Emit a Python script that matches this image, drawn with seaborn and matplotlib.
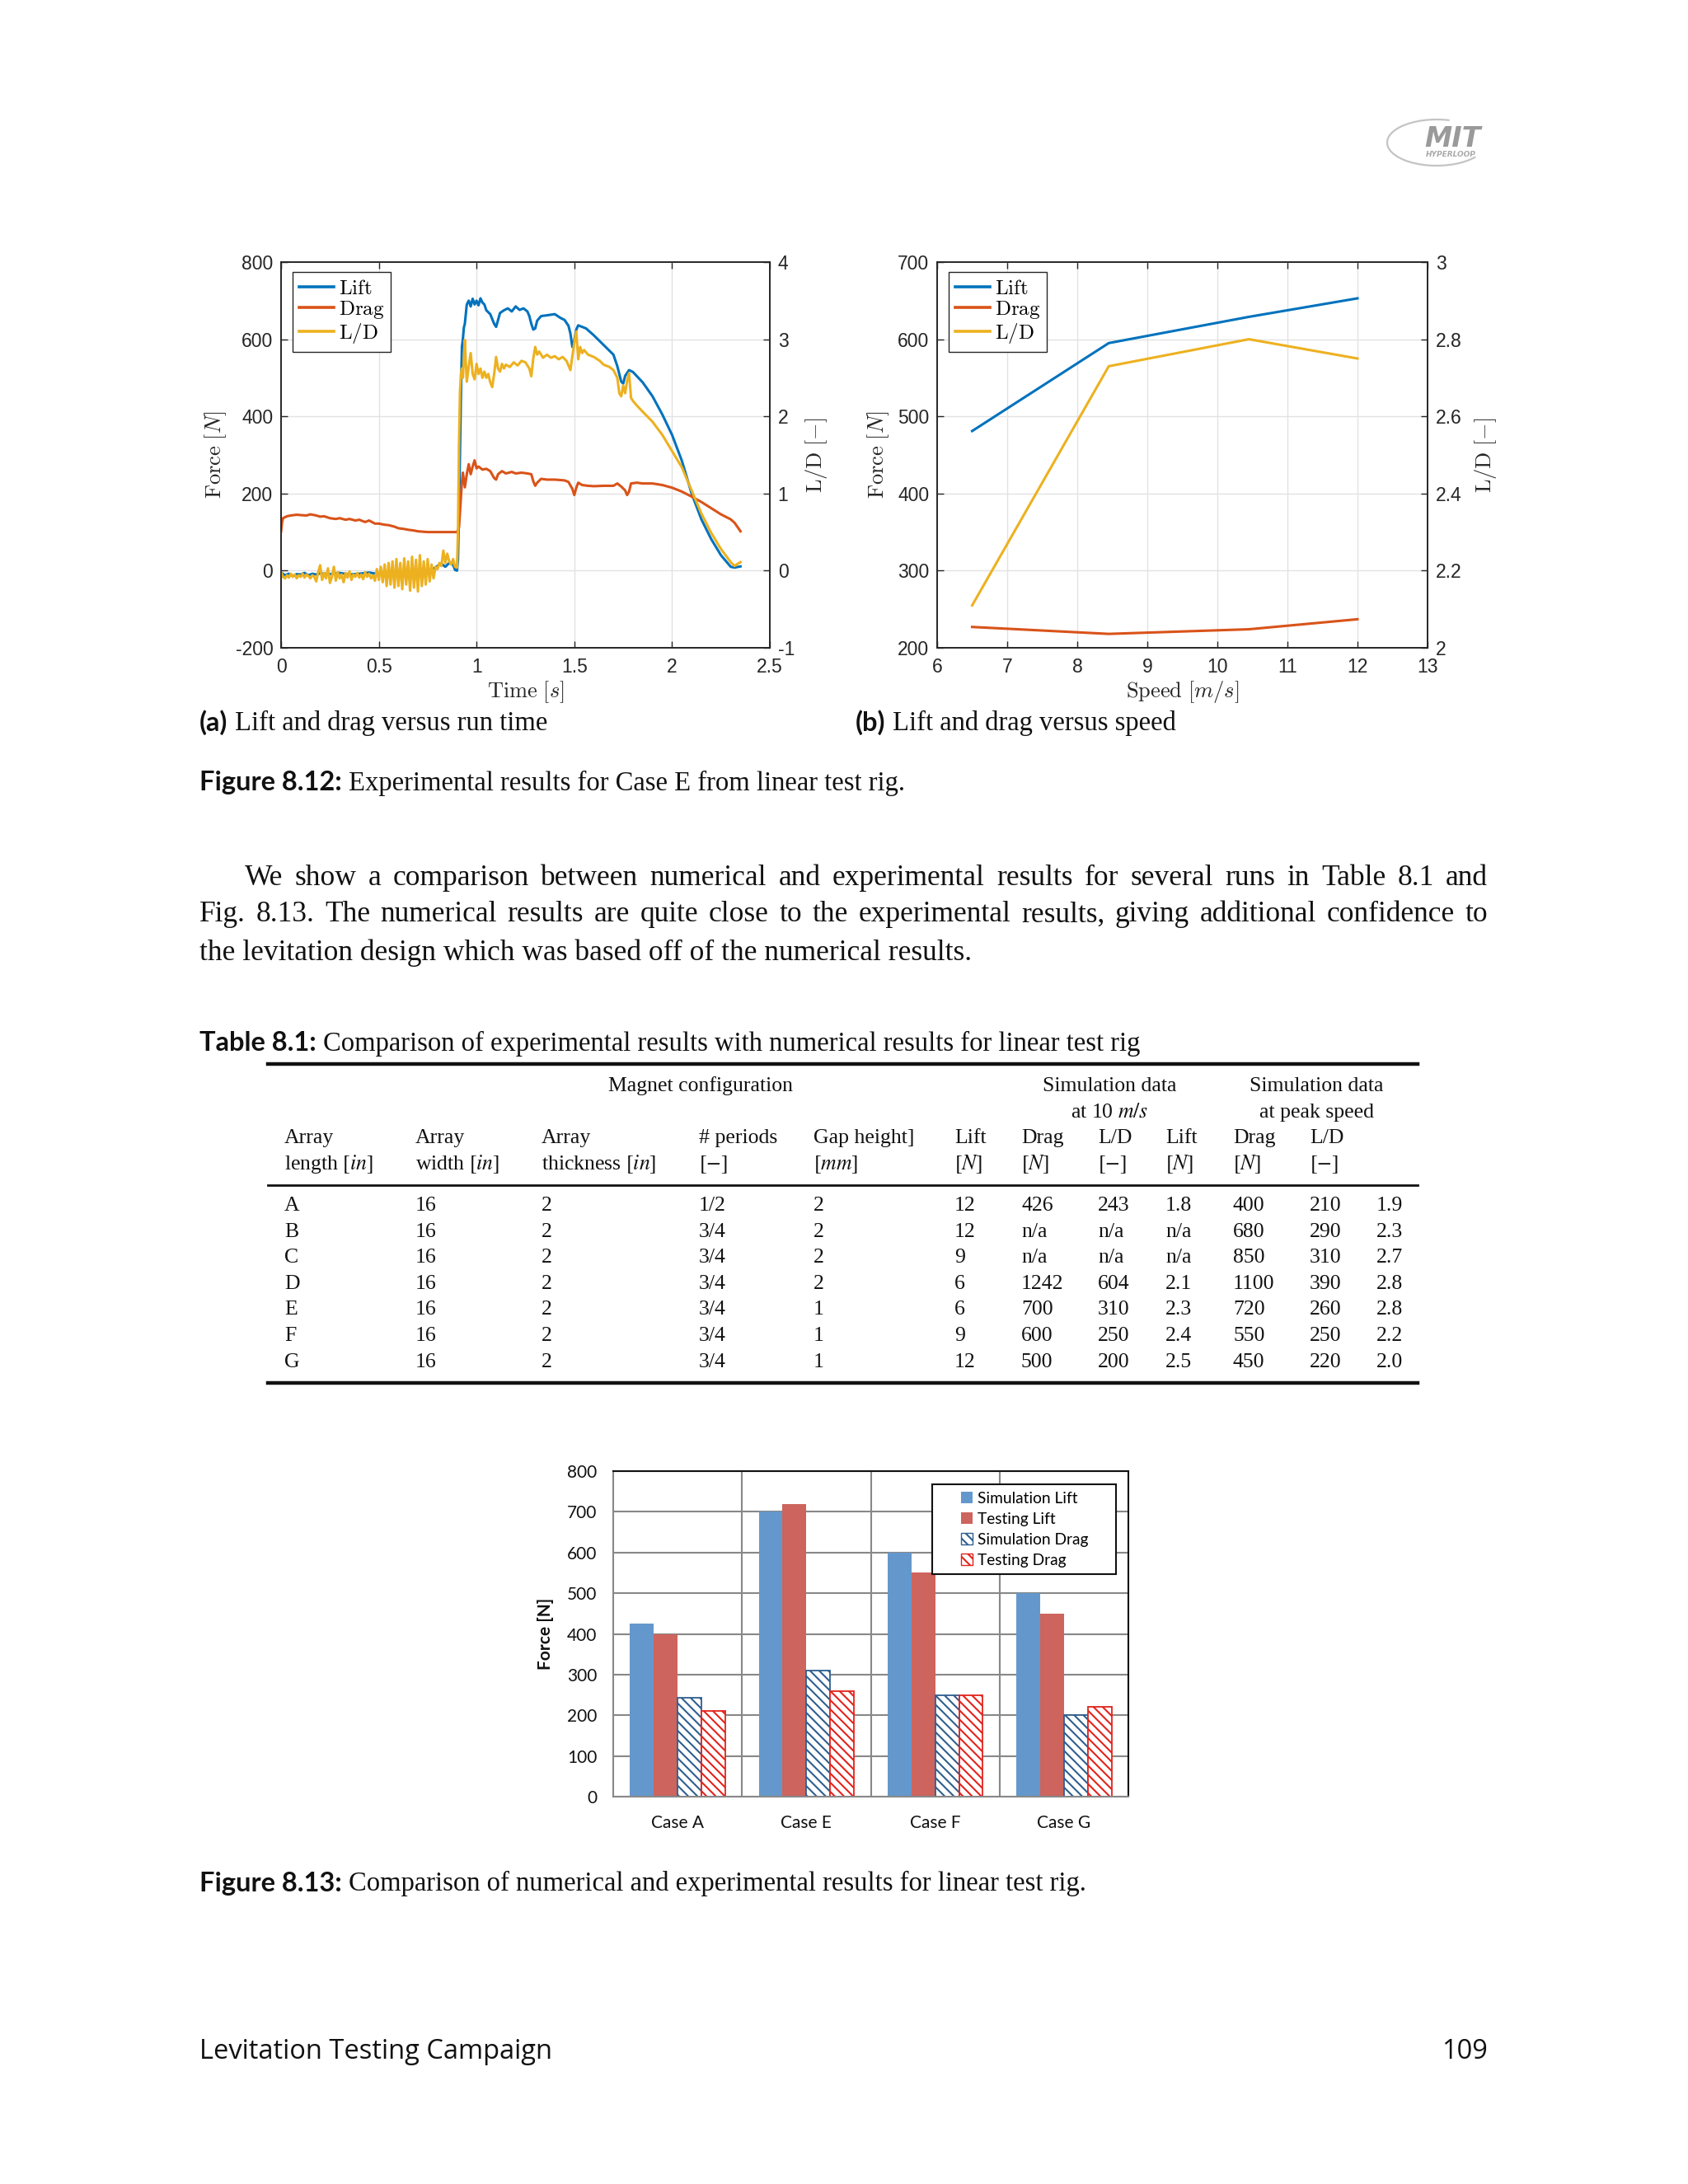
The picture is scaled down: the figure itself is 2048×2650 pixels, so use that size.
import numpy as np
import pandas as pd
import matplotlib
matplotlib.use("Agg")
import matplotlib.pyplot as plt
import seaborn as sns
from matplotlib.lines import Line2D
from matplotlib.patches import Patch, Arc, Rectangle
from matplotlib.legend_handler import HandlerPatch

# ------------------------------------------------------------------ data
# (a) lift / drag / L-D versus run time
t_lift = [0.00, 0.02, 0.04, 0.06, 0.08, 0.10, 0.12, 0.14, 0.16, 0.18, 0.20, 0.25, 0.30, 0.35,
          0.40, 0.45, 0.50, 0.55, 0.60, 0.65, 0.70, 0.75, 0.78, 0.80, 0.82, 0.84, 0.86, 0.88,
          0.89, 0.90, 0.905, 0.91, 0.915, 0.92, 0.925, 0.93, 0.935, 0.94, 0.95, 0.96, 0.97,
          0.98, 0.99, 1.00, 1.01, 1.02, 1.03, 1.04, 1.05, 1.07, 1.09, 1.10, 1.11, 1.12, 1.14,
          1.16, 1.18, 1.20, 1.22, 1.24, 1.26, 1.27, 1.28, 1.29, 1.30, 1.31, 1.33, 1.36, 1.40,
          1.43, 1.45, 1.47, 1.48, 1.49, 1.50, 1.51, 1.52, 1.54, 1.56, 1.60, 1.65, 1.70, 1.72,
          1.74, 1.75, 1.76, 1.78, 1.80, 1.85, 1.90, 1.95, 2.00, 2.05, 2.10, 2.15, 2.20, 2.25,
          2.30, 2.32, 2.35]
lift_a = [-5, -12, -8, -14, -9, -10, -6, -12, -8, -10, -7, -9, -6, -10,
          -8, -5, -9, -6, -8, -4, -6, -2, 5, 12, 18, 10, 20, 15,
          2, 0, 30, 150, 300, 450, 580, 600, 630, 640, 690, 700, 685,
          705, 690, 700, 688, 706, 695, 690, 675, 665, 640, 632, 650, 668, 675,
          680, 672, 685, 676, 680, 672, 660, 640, 625, 628, 648, 660, 662, 665,
          655, 650, 635, 615, 580, 598, 625, 636, 632, 628, 610, 585, 560, 530,
          490, 485, 505, 520, 515, 488, 452, 405, 352, 285, 200, 133, 82, 40,
          10, 8, 11]

t_drag = [0.00, 0.005, 0.01, 0.03, 0.05, 0.08, 0.10, 0.13, 0.15, 0.18, 0.20, 0.22, 0.25, 0.28,
          0.30, 0.33, 0.35, 0.38, 0.40, 0.43, 0.45, 0.48, 0.50, 0.53, 0.55, 0.58, 0.60, 0.63,
          0.65, 0.68, 0.70, 0.75, 0.80, 0.85, 0.90, 0.91, 0.915, 0.92, 0.925, 0.93, 0.94, 0.95,
          0.96, 0.97, 0.98, 0.99, 1.00, 1.01, 1.03, 1.05, 1.07, 1.09, 1.10, 1.11, 1.13, 1.15,
          1.18, 1.20, 1.23, 1.26, 1.28, 1.29, 1.30, 1.31, 1.33, 1.36, 1.40, 1.45, 1.47, 1.49,
          1.50, 1.51, 1.52, 1.54, 1.57, 1.60, 1.65, 1.70, 1.72, 1.74, 1.76, 1.77, 1.78, 1.79,
          1.82, 1.85, 1.90, 1.95, 2.00, 2.05, 2.10, 2.15, 2.20, 2.25, 2.30, 2.32, 2.35]
drag_a = [102, 125, 136, 141, 143, 145, 144, 143, 146, 143, 140, 141, 136, 134,
          136, 132, 134, 130, 132, 126, 130, 122, 122, 119, 118, 114, 110, 108,
          106, 104, 102, 100, 100, 100, 100, 112, 150, 190, 230, 254, 216, 250,
          276, 250, 270, 286, 265, 270, 262, 264, 258, 240, 236, 250, 258, 252,
          256, 252, 254, 252, 250, 232, 220, 228, 238, 236, 236, 234, 230, 212,
          196, 215, 228, 222, 220, 219, 220, 220, 226, 218, 208, 196, 205, 226,
          228, 226, 226, 222, 215, 205, 192, 178, 162, 146, 133, 124, 102]

t_ld = [0.00, 0.01, 0.02, 0.03, 0.04, 0.05, 0.06, 0.07, 0.08, 0.09, 0.10, 0.11, 0.12, 0.13,
        0.14, 0.15, 0.16, 0.17, 0.18, 0.19, 0.20, 0.21, 0.22, 0.23, 0.24, 0.25, 0.26, 0.27,
        0.28, 0.29, 0.30, 0.31, 0.32, 0.33, 0.34, 0.35, 0.36, 0.37, 0.38, 0.39, 0.40, 0.41,
        0.42, 0.43, 0.44, 0.45, 0.46, 0.47, 0.48, 0.49, 0.50, 0.51, 0.52, 0.53, 0.54, 0.55,
        0.56, 0.57, 0.58, 0.59, 0.60, 0.61, 0.62, 0.63, 0.64, 0.65, 0.66, 0.67, 0.68, 0.69,
        0.70, 0.71, 0.72, 0.73, 0.74, 0.75, 0.76, 0.77, 0.78, 0.79, 0.80, 0.81, 0.82, 0.83,
        0.84, 0.85, 0.86, 0.87, 0.88, 0.89, 0.90, 0.905, 0.91, 0.915, 0.92, 0.925, 0.93,
        0.935, 0.94, 0.945, 0.95, 0.96, 0.97, 0.98, 0.99, 1.00, 1.01, 1.02, 1.03, 1.04, 1.05,
        1.06, 1.07, 1.08, 1.09, 1.10, 1.11, 1.12, 1.13, 1.14, 1.15, 1.17, 1.19, 1.21, 1.23,
        1.25, 1.27, 1.28, 1.29, 1.30, 1.31, 1.32, 1.34, 1.36, 1.38, 1.40, 1.42, 1.44, 1.46,
        1.47, 1.48, 1.49, 1.50, 1.51, 1.52, 1.53, 1.54, 1.55, 1.57, 1.60, 1.63, 1.65, 1.68,
        1.70, 1.72, 1.73, 1.74, 1.75, 1.76, 1.77, 1.78, 1.79, 1.80, 1.82, 1.85, 1.90, 1.95,
        2.00, 2.05, 2.10, 2.15, 2.20, 2.25, 2.30, 2.32, 2.33, 2.35]
ld_a = [-0.02, -0.08, -0.10, -0.06, -0.09, -0.04, -0.08, -0.05, -0.10, -0.06, -0.08, -0.04,
        -0.09, -0.05, -0.07, -0.10, -0.06, -0.08, -0.14, -0.02, 0.07, -0.12, -0.03, -0.10,
        0.03, -0.16, -0.08, 0.05, -0.13, -0.02, -0.10, -0.05, -0.15, -0.03, -0.09, -0.01,
        -0.12, -0.05, -0.08, -0.03, -0.09, -0.05, -0.11, -0.02, -0.08, -0.04, -0.10, -0.06,
        -0.13, 0.02, -0.12, 0.05, -0.15, 0.08, -0.20, 0.10, -0.18, 0.12, -0.22, 0.15, -0.20,
        0.10, -0.24, 0.16, -0.18, 0.12, -0.26, 0.18, -0.22, 0.14, -0.27, 0.20, -0.20, 0.12,
        -0.18, 0.15, -0.14, 0.08, -0.10, 0.05, 0.02, 0.10, 0.06, 0.26, 0.10, 0.22, 0.12, 0.08,
        0.15, 0.05, 0.04, 0.50, 1.60, 2.30, 2.55, 2.62, 2.50, 2.75, 2.99, 2.70, 2.45, 2.65,
        2.82, 2.55, 2.48, 2.68, 2.55, 2.62, 2.50, 2.58, 2.50, 2.55, 2.44, 2.38, 2.55, 2.77,
        2.62, 2.58, 2.68, 2.62, 2.67, 2.64, 2.70, 2.66, 2.72, 2.70, 2.62, 2.52, 2.75, 2.90,
        2.80, 2.84, 2.76, 2.80, 2.76, 2.78, 2.74, 2.77, 2.72, 2.66, 2.60, 2.78, 2.96, 3.10,
        2.74, 2.90, 2.82, 2.86, 2.80, 2.77, 2.72, 2.67, 2.64, 2.60, 2.50, 2.30, 2.26, 2.40,
        2.30, 2.46, 2.56, 2.24, 2.20, 2.14, 2.06, 1.93, 1.76, 1.55, 1.34, 1.04, 0.74, 0.49,
        0.28, 0.11, 0.06, 0.08, 0.11]

# (b) lift / drag / L-D versus speed
speed_b = [6.5, 8.45, 10.45, 12.0]
lift_b = [481, 595, 629, 653]
drag_b = [227, 218, 224, 237]
ld_b = [2.11, 2.73, 2.80, 2.75]

# Fig 8.13 bar chart
cases = ["Case A", "Case E", "Case F", "Case G"]
series_names = ["Simulation Lift", "Testing Lift", "Simulation Drag", "Testing Drag"]
sim_lift = [426, 700, 600, 500]
test_lift = [400, 720, 550, 450]
sim_drag = [243, 310, 250, 200]
test_drag = [210, 260, 250, 220]

# Table 8.1
tbl_head_top = ["Array", "Array", "Array", "# periods", "Gap height]", "Lift", "Drag", "L/D",
                "Lift", "Drag", "L/D"]
tbl_head_bot = [r"length $[in]$", r"width $[in]$", r"thickness $[in]$", r"$[-]$", r"$[mm]$",
                r"$[N]$", r"$[N]$", r"$[-]$", r"$[N]$", r"$[N]$", r"$[-]$"]
tbl_rows = [
    ["A", "16", "2", "1/2", "2", "12", "426", "243", "1.8", "400", "210", "1.9"],
    ["B", "16", "2", "3/4", "2", "12", "n/a", "n/a", "n/a", "680", "290", "2.3"],
    ["C", "16", "2", "3/4", "2", "9", "n/a", "n/a", "n/a", "850", "310", "2.7"],
    ["D", "16", "2", "3/4", "2", "6", "1242", "604", "2.1", "1100", "390", "2.8"],
    ["E", "16", "2", "3/4", "1", "6", "700", "310", "2.3", "720", "260", "2.8"],
    ["F", "16", "2", "3/4", "1", "9", "600", "250", "2.4", "550", "250", "2.2"],
    ["G", "16", "2", "3/4", "1", "12", "500", "200", "2.5", "450", "220", "2.0"],
]

# ------------------------------------------------------------------ style
plt.rcParams["font.family"] = ["Liberation Sans", "DejaVu Sans"]
plt.rcParams["mathtext.fontset"] = "cm"
plt.rcParams["axes.unicode_minus"] = False
plt.rcParams["hatch.linewidth"] = 1.5

W, H = 2048, 2650
fig = plt.figure(figsize=(W / 100, H / 100), dpi=100)
fig.patch.set_facecolor("white")
R = fig.canvas.get_renderer()

SERIF = ["Liberation Serif", "DejaVu Serif"]
BOLDSANS = ["Lato", "DejaVu Sans"]
SANS = ["Open Sans", "DejaVu Sans"]
BLUE, ORANGE, YELLOW = "#0072BD", "#D95319", "#EDB120"
AXC = "#262626"
INK = "#111111"


def rect(l, t, r, b):
    return [l / W, 1 - b / H, (r - l) / W, (b - t) / H]


def ftext(x, y, s, **kw):
    kw.setdefault("va", "center")
    return fig.text(x / W, 1 - y / H, s, **kw)


def width_px(t):
    return t.get_window_extent(R).width


def justify(y, x0, x1, s, size, family):
    words = s.split()
    ts = [ftext(x0, y, w, fontsize=size, family=family, color=INK) for w in words]
    ws = [width_px(t) for t in ts]
    gap = (x1 - x0 - sum(ws)) / (len(words) - 1)
    x = x0
    for t, w in zip(ts, ws):
        t.set_x(x / W)
        x += w + gap


def caption(y, x0, bold, rest, size):
    t = ftext(x0, y, bold, fontsize=size, family=BOLDSANS, weight="bold", color=INK)
    w = width_px(t)
    ftext(x0 + w + size * 100 / 72 * 0.25, y, rest, fontsize=size, family=SERIF, color=INK)


def matlab_style(ax, ax2):
    for a in (ax, ax2):
        for s in a.spines.values():
            s.set_color(AXC)
            s.set_linewidth(1.2)
        a.tick_params(direction="in", length=6, width=1.0, colors=AXC, labelsize=16.5)
    ax.tick_params(top=True, axis="x", pad=9)
    ax.tick_params(axis="y", pad=7)
    ax2.tick_params(axis="y", pad=7)
    ax.grid(True, color="#e2e2e2", linewidth=1.0)
    ax.set_axisbelow(True)


def matlab_legend(ax2, fig_w, fig_h):
    handles = [Line2D([], [], color=BLUE, lw=2.6),
               Line2D([], [], color=ORANGE, lw=2.6),
               Line2D([], [], color=YELLOW, lw=2.6)]
    labels = [r"$\mathrm{Lift}$", r"$\mathrm{Drag}$", r"$\mathrm{L/D}$"]
    leg = ax2.legend(handles, labels, loc="upper left",
                     bbox_to_anchor=(14 / fig_w, 1 - 12 / fig_h), borderaxespad=0,
                     fontsize=18, handlelength=1.7, handletextpad=0.25, labelspacing=0.05,
                     borderpad=0.3, fancybox=False, framealpha=1, edgecolor=AXC)
    leg.get_frame().set_linewidth(1.0)


class SquareRight(HandlerPatch):
    """Small square legend key placed at the right end of the handle box."""

    def create_artists(self, legend, orig_handle, xdescent, ydescent, width, height,
                       fontsize, trans):
        side = 0.72 * fontsize
        p = Rectangle((width - side - xdescent, -ydescent + (height - side) / 2), side, side)
        self.update_prop(p, orig_handle, legend)
        p.set_transform(trans)
        return [p]


# ------------------------------------------------------------------ (a)
axA = fig.add_axes(rect(341, 318, 934, 786))
sns.lineplot(x=t_lift, y=lift_a, ax=axA, color=BLUE, linewidth=2.2, estimator=None, sort=False)
sns.lineplot(x=t_drag, y=drag_a, ax=axA, color=ORANGE, linewidth=2.2, estimator=None, sort=False)
axA2 = axA.twinx()
sns.lineplot(x=t_ld, y=ld_a, ax=axA2, color=YELLOW, linewidth=2.2, estimator=None, sort=False)
axA.set_xlim(0, 2.5)
axA.set_ylim(-200, 800)
axA2.set_ylim(-1, 4)
axA.set_xticks([0, 0.5, 1, 1.5, 2, 2.5])
axA.set_xticklabels(["0", "0.5", "1", "1.5", "2", "2.5"])
axA.set_yticks([-200, 0, 200, 400, 600, 800])
axA2.set_yticks([-1, 0, 1, 2, 3, 4])
matlab_style(axA, axA2)
axA.set_xlabel(r"$\mathrm{Time}\ [s]$", fontsize=19, color=AXC, labelpad=2)
axA.set_ylabel(r"$\mathrm{Force}\ [N]$", fontsize=19, color=AXC, labelpad=6)
axA2.set_ylabel(r"$\mathrm{L/D}\ [-]$", fontsize=19, color=AXC, labelpad=8)
matlab_legend(axA2, 593, 468)

# ------------------------------------------------------------------ (b)
axB = fig.add_axes(rect(1137, 318, 1732, 786))
sns.lineplot(x=speed_b, y=lift_b, ax=axB, color=BLUE, linewidth=2.2, estimator=None, sort=False)
sns.lineplot(x=speed_b, y=drag_b, ax=axB, color=ORANGE, linewidth=2.2, estimator=None, sort=False)
axB2 = axB.twinx()
sns.lineplot(x=speed_b, y=ld_b, ax=axB2, color=YELLOW, linewidth=2.2, estimator=None, sort=False)
axB.set_xlim(6, 13)
axB.set_ylim(200, 700)
axB2.set_ylim(2, 3)
axB.set_xticks(range(6, 14))
axB.set_yticks(range(200, 701, 100))
axB2.set_yticks([2, 2.2, 2.4, 2.6, 2.8, 3])
axB2.set_yticklabels(["2", "2.2", "2.4", "2.6", "2.8", "3"])
matlab_style(axB, axB2)
axB.set_xlabel(r"$\mathrm{Speed}\ [m/s]$", fontsize=19, color=AXC, labelpad=2)
axB.set_ylabel(r"$\mathrm{Force}\ [N]$", fontsize=19, color=AXC, labelpad=6)
axB2.set_ylabel(r"$\mathrm{L/D}\ [-]$", fontsize=19, color=AXC, labelpad=10)
matlab_legend(axB2, 595, 468)

# ------------------------------------------------------------------ page text
CAP = 23.5
caption(877, 242, "(a)", "Lift and drag versus run time", CAP)
caption(877, 1038, "(b)", "Lift and drag versus speed", CAP)
caption(950, 242, "Figure 8.12:", "Experimental results for Case E from linear test rig.", CAP)

PARA = 25.5
justify(1065, 297, 1805,
        "We show a comparison between numerical and experimental results for several runs in Table 8.1 and",
        PARA, SERIF)
justify(1110, 242, 1805,
        "Fig. 8.13. The numerical results are quite close to the experimental results, giving additional confidence to",
        PARA, SERIF)
ftext(242, 1156, "the levitation design which was based off of the numerical results.",
      fontsize=PARA, family=SERIF, color=INK)

caption(1266, 242, "Table 8.1:",
        "Comparison of experimental results with numerical results for linear test rig", CAP)

# ------------------------------------------------------------------ table
TS = 18.5
col_x = [345, 504, 657, 848, 987, 1158, 1239, 1332, 1414, 1496, 1589, 1670]
for yy, lw in ((1291, 3.2), (1438, 2.0), (1678, 3.2)):
    fig.add_artist(Line2D([325 / W, 1720 / W], [1 - yy / H, 1 - yy / H], color=INK, lw=lw))

tkw = dict(fontsize=TS, family=SERIF, color=INK, math_fontfamily="stix")
ftext(850, 1318, "Magnet configuration", ha="center", **tkw)
ftext(1346, 1318, "Simulation data", ha="center", **tkw)
ftext(1346, 1350, r"at 10 $m/s$", ha="center", **tkw)
ftext(1597, 1318, "Simulation data", ha="center", **tkw)
ftext(1597, 1350, "at peak speed", ha="center", **tkw)
for x, s in zip(col_x, tbl_head_top):
    ftext(x, 1381, s, ha="left", **tkw)
for x, s in zip(col_x, tbl_head_bot):
    ftext(x, 1413, s, ha="left", **tkw)
for i, row in enumerate(tbl_rows):
    y = 1463 + i * 31.6
    for x, s in zip(col_x, row):
        ftext(x, y, s, ha="left", **tkw)

# ------------------------------------------------------------------ bar chart (Fig 8.13)
df = pd.DataFrame({
    "case": cases * 4,
    "series": sum([[n] * 4 for n in series_names], []),
    "value": sim_lift + test_lift + sim_drag + test_drag,
})
BAR_COL = {"Simulation Lift": "#6498CC", "Testing Lift": "#CD645E",
           "Simulation Drag": "#2F5F8F", "Testing Drag": "#E3231C"}
axC = fig.add_axes(rect(744, 1785, 1369, 2180))
sns.barplot(data=df, x="case", y="value", hue="series", hue_order=series_names, order=cases,
            palette=BAR_COL, width=0.74, saturation=1, ax=axC, legend=False)
HATCH = "\\\\\\"
for name, cont in zip(series_names, axC.containers):
    for p in cont.patches:
        if "Drag" in name:
            p.set_facecolor("white")
            p.set_edgecolor(BAR_COL[name])
            p.set_hatch(HATCH)
            p.set_linewidth(1.3)
        else:
            p.set_edgecolor("none")
axC.set_ylim(0, 800)
axC.set_yticks(range(0, 801, 100))
axC.set_xticks([0.5, 1.5, 2.5], minor=True)
axC.grid(True, which="major", axis="y", color="#888888", lw=1.5)
axC.grid(True, which="minor", axis="x", color="#888888", lw=1.5)
axC.set_axisbelow(True)
axC.tick_params(which="both", length=0, labelsize=15, colors=INK)
axC.tick_params(axis="y", pad=14)
axC.tick_params(axis="x", pad=16)
for lab in axC.get_xticklabels() + axC.get_yticklabels():
    lab.set_fontfamily(["Lato", "DejaVu Sans"])
axC.set_xlabel("")
axC.set_ylabel("Force [N]", fontsize=15, weight="bold", family=["Lato", "DejaVu Sans"],
               labelpad=12, color=INK)
for s in ("top", "right"):
    axC.spines[s].set_color(INK)
    axC.spines[s].set_linewidth(1.5)
for s in ("left", "bottom"):
    axC.spines[s].set_color("#888888")
    axC.spines[s].set_linewidth(1.5)
leg_handles = []
for name in series_names:
    if "Drag" in name:
        leg_handles.append(Patch(facecolor="white", edgecolor=BAR_COL[name], hatch=HATCH, lw=1.0))
    else:
        leg_handles.append(Patch(facecolor=BAR_COL[name], edgecolor="none"))
legC = axC.legend(leg_handles, [n + "     " for n in series_names], loc="upper right",
                  bbox_to_anchor=(1 - 15 / 625, 1 - 16 / 395), borderaxespad=0,
                  prop={"family": ["Lato", "DejaVu Sans"], "size": 13.8},
                  handler_map={Patch: SquareRight()},
                  handlelength=2.1, handleheight=0.8, handletextpad=0.35, labelspacing=0.42,
                  borderpad=0.45, fancybox=False, framealpha=1, edgecolor=INK)
legC.get_frame().set_linewidth(1.5)

caption(2285, 242, "Figure 8.13:",
        "Comparison of numerical and experimental results for linear test rig.", CAP)

# ------------------------------------------------------------------ footer + logo
ftext(242, 2489, "Levitation Testing Campaign", fontsize=23.5, family=SANS, color=INK)
ftext(1805, 2489, "109", fontsize=23.5, family=SANS, color=INK, ha="right")

lax = fig.add_axes(rect(1680, 140, 1815, 206))
lax.set_xlim(0, 135)
lax.set_ylim(66, 0)
lax.axis("off")
lax.add_patch(Arc((63, 33), 120, 56, theta1=20, theta2=300, color="#c4c4c4", lw=1.6))
lax.text(82, 29, "MIT", fontsize=24, weight="bold", style="italic", color="#9a9a9a",
         ha="center", va="center", family=["DejaVu Sans"])
lax.text(80, 47, "HYPERLOOP", fontsize=6.5, weight="bold", style="italic", color="#aaaaaa",
         ha="center", va="center", family=["DejaVu Sans"])

fig.savefig("out.png", dpi=100, facecolor="white")
